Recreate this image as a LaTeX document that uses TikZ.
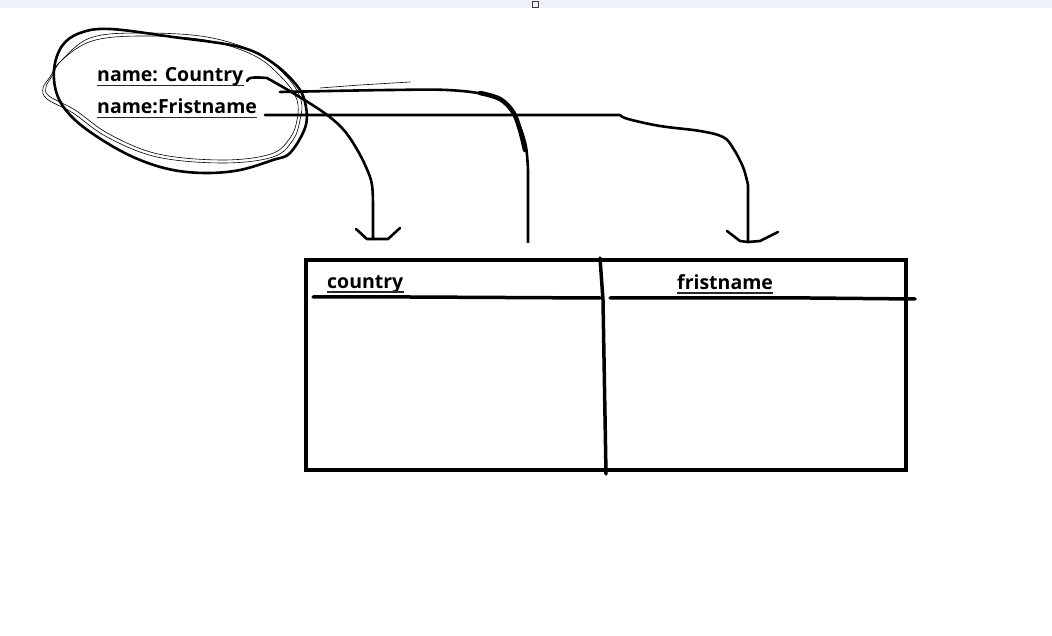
\documentclass[tikz,border=0pt]{standalone}
\usepackage{fontspec}
\setmainfont{Open Sans}
\begin{document}
\begin{tikzpicture}[x=1pt,y=-1pt,
  ink/.style={line width=2.6pt,line cap=round,line join=round},
  thin/.style={line width=0.6pt,line cap=round,line join=round},
  lbl/.style={inner sep=0pt,font=\fontsize{19.5}{22}\selectfont\bfseries,anchor=base west},
  uline/.style={line width=1.5pt,draw={rgb,255:red,40;green,40;blue,40}},
  tbl/.style={line width=3.5pt,line cap=round}]
\useasboundingbox (0,0) rectangle (1052,636);
% top strip
\fill[fill={rgb,255:red,238;green,242;blue,248}] (0,0) rectangle (1052,8);
\draw[line width=1pt,draw={rgb,255:red,60;green,60;blue,60}] (532,2) rectangle (538,8);
% labels
\node[lbl] (nc) at (97,82) {name: Country};
\node[lbl] (nf) at (97,114) {name:Fristname};
\draw[uline] ([yshift=-3.5pt]nc.base west) -- ([yshift=-3.5pt]nc.base east);
\draw[uline] ([yshift=-3.5pt]nf.base west) -- ([yshift=-3.5pt]nf.base east);
% ellipse (thick)
\draw[ink] plot[smooth cycle,tension=0.6] coordinates {(62,46) (80,33) (110,29) (173,37) (240,47) (273,63) (298,87) (306,107) (305,128) (290,153) (273,160) (240,170) (207,173) (173,170) (140,160) (107,143) (75,120) (58,97) (54,70)};
% ellipse (thin double outline)
\draw[thin] plot[smooth cycle,tension=0.6] coordinates {(60,62) (90,38) (140,33) (207,37) (257,53) (287,77) (301,100) (300,120) (293,140) (273,157) (223,163) (157,157) (107,137) (73,113) (47,99) (43,88) (50,77)};
\draw[thin] plot[smooth cycle,tension=0.6] coordinates {(62,60) (92,41) (140,36) (205,40) (255,56) (284,80) (297,100) (297,120) (290,138) (271,154) (223,160) (158,154) (109,134) (75,110) (49,96) (46,87) (52,76)};
% stray thin stroke
\draw[thin] (320,88) -- (360,85) -- (410,82);
% table
\coordinate (tl) at (306,260);
\coordinate (br) at (906,470);
\draw[tbl,line cap=butt] (tl) rectangle (br);
\coordinate (dtop) at (600,258);
\coordinate (dbot) at (606,474);
\draw[tbl] (dtop) -- (603,300) -- (dbot);
\coordinate (h1) at (313,297);
\coordinate (h2) at (915,299);
\draw[tbl] (h1) -- (410,297) -- (600,298);
\draw[tbl] (610,298) -- (810,298) -- (h2);
\node[lbl] (cc) at (327,289) {country};
\node[lbl] (cf) at (677,290) {fristname};
\draw[uline] ([yshift=-3pt]cc.base west) -- ([yshift=-3pt]cc.base east);
\draw[uline] ([yshift=-3pt]cf.base west) -- ([yshift=-3pt]cf.base east);
% connector 1: Country -> country column
\coordinate (s1) at (247,81);
\coordinate (a1) at (373,239);
\draw[ink] (s1) .. controls (248,77) and (255,77) .. (267,78)
  plot[smooth,tension=0.6] coordinates {(267,78) (293,93) (323,112) (342,128) (355,146) (366,167) (372,185) (373,210)} -- (a1);
\draw[ink] (356,229) -- (367,239) -- (a1) -- (388,239) -- (400,228);
% connector 2: thick line down to divider
\coordinate (s2) at (280,92);
\coordinate (a2) at (528,242);
\draw[ink] (s2) -- (330,91) plot[smooth,tension=0.6] coordinates {(330,91) (390,90) (447,90) (487,95) (510,107) (520,127) (526,147) (528,170)} -- (a2);
\draw[line width=4.5pt,line cap=round] plot[smooth,tension=0.6] coordinates {(480,93) (500,99) (513,112) (520,130) (525,150)};
% connector 3: Fristname -> fristname column
\coordinate (s3) at (265,115);
\coordinate (a3) at (748,242);
\draw[ink] (s3) -- (620,115) plot[smooth,tension=0.6] coordinates {(620,115) (628,119) (660,126) (700,131) (723,137) (733,148) (743,167) (748,185)} -- (a3);
\draw[ink] (727,231) -- (740,241) -- (a3) -- (760,241) -- (778,232);
\end{tikzpicture}
\end{document}
